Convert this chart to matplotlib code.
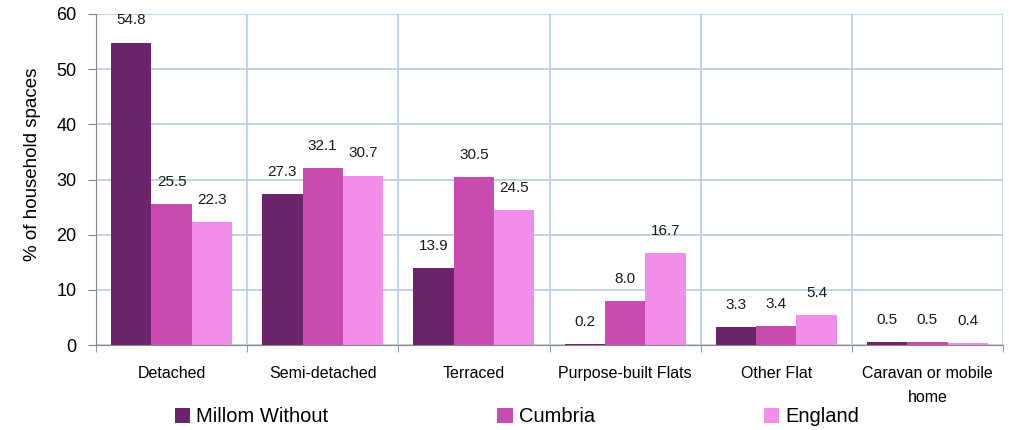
import matplotlib
matplotlib.use("Agg")
import matplotlib.pyplot as plt
import numpy as np

plt.rcParams['font.family'] = ['Liberation Sans', 'DejaVu Sans']

categories = ["Detached", "Semi-detached", "Terraced", "Purpose-built Flats",
              "Other Flat", "Caravan or mobile\nhome"]
series_names = ["Millom Without", "Cumbria", "England"]
millom = [54.8, 27.3, 13.9, 0.2, 3.3, 0.5]
cumbria = [25.5, 32.1, 30.5, 8.0, 3.4, 0.5]
england = [22.3, 30.7, 24.5, 16.7, 5.4, 0.4]
colors = ["#6b2369", "#c84cb0", "#f08ee9"]
yticks = [0, 10, 20, 30, 40, 50, 60]

fig = plt.figure(figsize=(10.09, 4.30), dpi=100)
ax = fig.add_axes([96/1009, 85/430, 907/1009, 331/430])

x = np.arange(len(categories))
w = 0.8 / 3
handles = []
for i, (vals, c) in enumerate(zip([millom, cumbria, england], colors)):
    bars = ax.bar(x + (i - 1) * w, vals, width=w, color=c, zorder=3)
    handles.append(bars)
    for xi, v in zip(x + (i - 1) * w, vals):
        ax.annotate(f"{v:.1f}", (xi, v), xytext=(0, 16), textcoords="offset points",
                    ha="center", va="center", fontsize=11, color="#1a1a1a")

ax.set_xlim(-0.5, len(categories) - 0.5)
ax.set_ylim(0, 60)
ax.set_yticks(yticks)
ax.tick_params(axis='y', labelsize=13, length=6, pad=8, color="#868686")
ax.set_xticks(x)
ax.set_xticklabels(categories, fontsize=11.5, linespacing=1.75)
ax.tick_params(axis='x', which='major', length=0, pad=15)
ax.set_xticks(np.arange(len(categories) + 1) - 0.5, minor=True)
ax.tick_params(axis='x', which='minor', length=5, color="#868686")

ax.grid(True, which='major', axis='y', color="#b9cde5", linewidth=1.2, zorder=0)
ax.grid(True, which='minor', axis='x', color="#b9cde5", linewidth=1.2, zorder=0)
for s in ["top", "right"]:
    ax.spines[s].set_visible(False)
for s in ["left", "bottom"]:
    ax.spines[s].set_color("#868686")
ax.spines["bottom"].set_zorder(4)

ax.set_ylabel("% of household spaces", fontsize=13.5, va="center")
ax.yaxis.set_label_coords(-0.07, 0.547)

fig.legend(handles, series_names, loc="center left",
           bbox_to_anchor=(175/1009, 1 - 417/430), ncol=3, frameon=False,
           fontsize=14.5, borderpad=0, borderaxespad=0, columnspacing=8.4,
           handletextpad=0.3, handlelength=0.75, handleheight=0.75)

fig.savefig("out.png", dpi=100)
